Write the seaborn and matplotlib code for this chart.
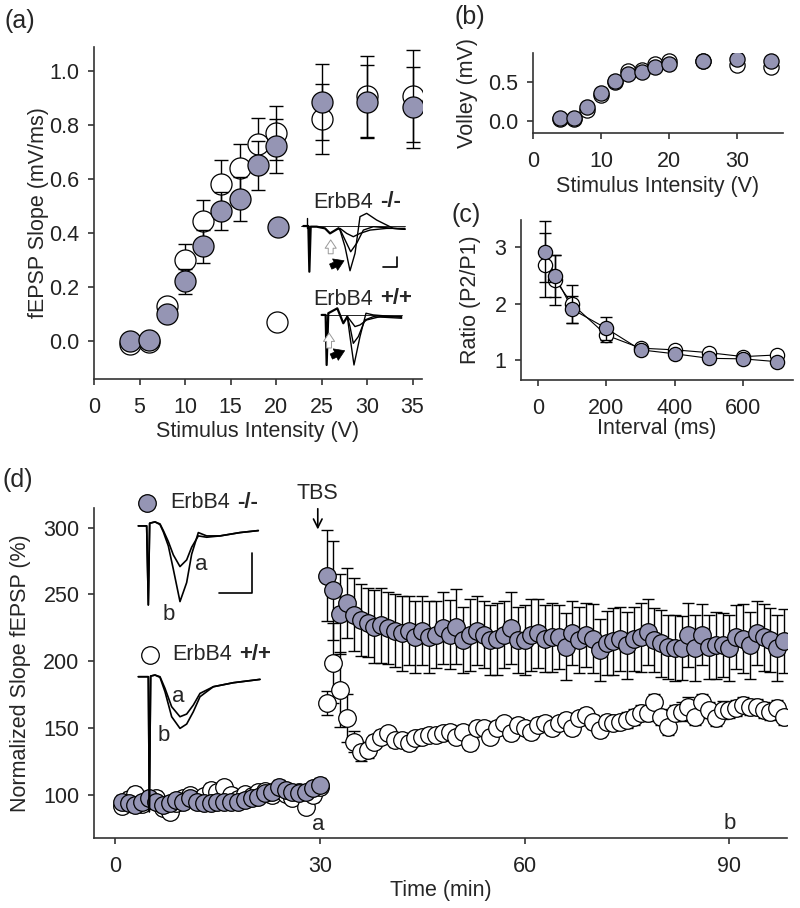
import numpy as np
import matplotlib
matplotlib.use("Agg")
import matplotlib.pyplot as plt
import seaborn as sns

# ================= DATA =================
# (a) input/output: fEPSP slope vs stimulus intensity
stim_v = [4, 6, 8, 10, 12, 14, 16, 18, 20, 25, 30, 35]
slope_ko = [0.0, 0.005, 0.10, 0.22, 0.35, 0.48, 0.525, 0.65, 0.72, 0.885, 0.885, 0.865]
slope_ko_err = [0.01, 0.01, 0.02, 0.045, 0.06, 0.07, 0.08, 0.09, 0.10, 0.14, 0.135, 0.15]
slope_wt = [-0.01, -0.005, 0.13, 0.30, 0.445, 0.58, 0.64, 0.73, 0.77, 0.82, 0.905, 0.905]
slope_wt_err = [0.01, 0.01, 0.02, 0.06, 0.075, 0.09, 0.09, 0.095, 0.10, 0.13, 0.15, 0.17]

# (b) fiber volley vs stimulus intensity
volley_ko = [0.03, 0.03, 0.18, 0.36, 0.51, 0.60, 0.62, 0.69, 0.73, 0.765, 0.79, 0.765]
volley_ko_err = [0.01, 0.01, 0.02, 0.03, 0.03, 0.03, 0.03, 0.03, 0.04, 0.08, 0.05, 0.05]
volley_wt = [0.02, 0.02, 0.135, 0.33, 0.50, 0.64, 0.65, 0.73, 0.76, 0.77, 0.71, 0.685]
volley_wt_err = [0.01, 0.01, 0.02, 0.03, 0.03, 0.03, 0.03, 0.03, 0.04, 0.05, 0.06, 0.05]

# (c) paired-pulse ratio
interval_ms = [20, 50, 100, 200, 300, 400, 500, 600, 700]
ppr_ko = [2.92, 2.49, 1.90, 1.56, 1.18, 1.11, 1.03, 1.02, 0.97]
ppr_ko_err = [0.54, 0.37, 0.24, 0.20, 0.04, 0.04, 0.03, 0.03, 0.03]
ppr_wt = [2.69, 2.42, 1.99, 1.44, 1.21, 1.18, 1.13, 1.06, 1.09]
ppr_wt_err = [0.57, 0.44, 0.34, 0.12, 0.04, 0.04, 0.03, 0.03, 0.03]

# (d) LTP time course (1 point / min)
t_base = np.arange(1, 31)
ltp_ko_base = [95, 93.8, 92.5, 95, 97.5, 95, 92.5, 93.8, 96.3, 95, 97.5, 95, 93.8, 93.8, 95,
               95, 95, 95, 96.3, 97.5, 98.8, 101.3, 102.5, 106.2, 103.8, 102.5, 101.3, 102.5, 105, 107.5]
ltp_ko_base_err = [5, 4, 5, 4, 5, 4, 5, 4, 4, 5, 4, 5, 4, 4, 5,
                   4, 5, 4, 4, 5, 4, 5, 4, 5, 4, 5, 4, 5, 4, 5]
ltp_wt_base = [92, 97, 101, 93, 96, 98, 90, 87, 94, 98, 100, 96, 99, 104, 102,
               106, 100, 97, 101, 99, 102, 103, 100, 104, 101, 98, 102, 91, 100, 106]
ltp_wt_base_err = [4, 5, 5, 4, 4, 5, 4, 4, 5, 4, 4, 5, 4, 5, 4,
                   4, 5, 4, 4, 5, 4, 4, 5, 4, 4, 5, 4, 4, 5, 4]

t_post = np.arange(31, 99)
ltp_ko_post = [264, 253, 235.5, 243.6, 235, 231, 229, 226, 227, 225, 223, 221, 223, 218, 223, 218, 220,
               225, 220, 226, 216, 220, 223, 220, 216, 217, 220, 225, 216, 216, 220, 221, 217, 218,
               218, 211, 221, 216, 220, 217, 208.5, 213.5, 215, 217, 212, 217, 218, 222, 216, 213.5, 211,
               210, 210, 220, 210, 220, 211, 212, 212, 210, 218, 217, 212, 221, 218, 216, 210, 215]
ltp_ko_post_err = [34, 37, 30, 26, 27, 27, 26, 27, 28, 27, 27, 28, 26, 27, 26, 27, 25,
                   27, 26, 28, 25, 27, 26, 25, 26, 27, 25, 27, 25, 26, 27, 26, 25, 26,
                   24, 25, 24, 25, 24, 26, 23, 24, 25, 24, 25, 24, 26, 25, 24, 25, 24,
                   25, 24, 24, 25, 23, 24, 25, 24, 25, 24, 26, 25, 24, 25, 24, 25, 24]
ltp_wt_post = [168.6, 199, 178.6, 157.4, 140, 132.4, 133.7, 140, 143.6, 146, 141, 141, 138.7, 142.4, 143.6, 145, 145,
               146, 147, 143.6, 147, 139, 150, 150, 143.6, 150, 153.7, 146, 152.4, 150, 147, 152.4, 154, 150,
               153.6, 156, 150, 157.4, 160, 154.7, 148.7, 154.7, 153.6, 154.7, 156, 158.5, 161, 161, 169.7, 158.5, 151,
               161, 162.3, 166, 158.5, 169.7, 163.6, 157.4, 163.6, 163.6, 165, 167.4, 166, 166, 163.6, 162.3, 165, 158.5]
ltp_wt_post_err = [9, 30, 28, 18, 8, 7, 6, 5, 5, 5, 5, 5, 5, 5, 5, 5, 5,
                   5, 5, 5, 5, 5, 5, 5, 5, 5, 5, 5, 5, 5, 5, 5, 5, 5,
                   5, 5, 5, 5, 5, 5, 5, 5, 5, 5, 6, 6, 6, 6, 6, 6, 6,
                   6, 7, 7, 6, 6, 6, 6, 7, 6, 6, 6, 6, 6, 6, 6, 6, 6]

# example traces (ms, mV)
# (a) ErbB4 -/- : three intensities
tr_a_ko_pre_t = [-4.5, -0.75, 0, 1, 5.5, 11.75, 15.5, 21.75]
tr_a_ko_pre_v = [0, 0, -4.28, -0.06, -0.06, -0.22, -0.69, -0.22]
tr_a_ko_t = [[23, 28, 33, 38, 45.5, 58, 71.75],
             [23, 28, 31, 35.5, 40.5, 48, 71.75],
             [23, 26.75, 30.5, 34.25, 38, 43, 50.5, 63, 71.75]]
tr_a_ko_v = [[-0.22, -0.69, -1.0, -0.69, -0.38, -0.22, -0.22],
             [-0.31, -1.62, -2.41, -1.62, -0.38, -0.06, -0.31],
             [-0.38, -1.94, -4.19, -2.56, 0.88, 1.19, 0.56, -0.22, -0.31]]
# (a) ErbB4 +/+
tr_a_wt_pre_t = [-3.75, -0.75, 0, 1.25, 8, 12.5, 15.5]
tr_a_wt_pre_v = [0, 0, -4.69, 0.16, 0.62, -0.78, -0.16]
tr_a_wt_t = [[17.5, 21.25, 25, 30, 40, 56.25],
             [17.5, 20, 23.75, 28.75, 35, 56.25],
             [17.5, 20.5, 25, 29.5, 35, 56.25]]
tr_a_wt_v = [[-0.47, -1.09, -0.94, -0.47, -0.16, -0.16],
             [-1.09, -2.66, -2.03, -0.47, -0.16, -0.31],
             [-2.03, -4.69, -2.03, 0.16, 0, -0.22]]

# (d) traces before (a) and after (b) TBS
tr_d_ko_t = [-3, -0.5, 0, 0.4, 2, 3.5, 4.5, 6, 7.5, 9.5, 11.5, 13, 15, 17.5, 21.5, 27.5, 33]
tr_d_ko_a = [0, 0, -2.37, 0.08, 0.12, 0.06, -0.14, -0.47, -0.87, -1.22, -1.02, -0.64, -0.30, -0.34, -0.30, -0.20, -0.14]
tr_d_ko_b = [0, 0, -2.37, 0.08, 0.12, 0.04, -0.18, -0.6, -1.3, -2.27, -1.7, -0.85, -0.2, -0.3, -0.3, -0.2, -0.14]
tr_d_wt_t = [-3.3, -0.3, 0, 0.4, 1.7, 3.2, 4.7, 6.7, 9.2, 11.2, 13.2, 15.2, 19.2, 25.2, 33.2]
tr_d_wt_a = [0, 0, -4.05, 0.02, 0.05, 0, -0.35, -0.9, -1.2, -1.12, -0.85, -0.5, -0.3, -0.18, -0.08]
tr_d_wt_b = [0, 0, -4.05, 0.02, 0.05, -0.02, -0.45, -1.2, -1.55, -1.42, -1.05, -0.6, -0.3, -0.18, -0.08]

# ================= STYLE =================
sns.set_style("ticks")
plt.rcParams['font.family'] = ['Liberation Sans', 'DejaVu Sans']
plt.rcParams['font.size'] = 15.5
plt.rcParams['axes.linewidth'] = 1.2
plt.rcParams['axes.edgecolor'] = '#333333'
plt.rcParams['xtick.major.width'] = 1.1
plt.rcParams['ytick.major.width'] = 1.1
plt.rcParams['xtick.major.size'] = 4
plt.rcParams['ytick.major.size'] = 4
plt.rcParams['xtick.major.pad'] = 9
plt.rcParams['ytick.major.pad'] = 6.5
plt.rcParams['xtick.labelsize'] = 15.5
plt.rcParams['ytick.labelsize'] = 15.5

FILL = '#9595b4'
OPEN = 'white'
BLACK_ARROW = dict(arrowstyle='simple,head_width=0.9,head_length=0.7,tail_width=0.4',
                   fc='black', ec='black', lw=0.5, mutation_scale=10, shrinkA=0, shrinkB=0)
HOLLOW_ARROW = dict(arrowstyle='simple,head_width=0.8,head_length=0.6,tail_width=0.35',
                    fc='white', ec='#999999', lw=0.7, mutation_scale=10, shrinkA=0, shrinkB=0)


def draw_series(ax, x, y, err, color, s, capsize=4, z=3):
    ax.errorbar(x, y, yerr=err, fmt='none', ecolor='black', elinewidth=1,
                capsize=capsize, capthick=1, zorder=z - 1)
    sns.scatterplot(x=x, y=y, ax=ax, s=s, color=color, edgecolor='black',
                    linewidth=0.9, zorder=z, legend=False)


def tidy(ax, xlab, ylab):
    sns.despine(ax=ax)
    ax.tick_params(direction='out', colors='#222222')
    ax.xaxis.set_label_coords(*xlab)
    ax.yaxis.set_label_coords(*ylab)


def genotype_label(ax, x, y, suffix, transform, gap=5):
    t = ax.text(x, y, 'ErbB4', transform=transform, ha='left', va='center')
    ax.annotate(suffix, xy=(1, 0.5), xycoords=t, xytext=(gap, 0.5), textcoords='offset points',
                ha='left', va='center', fontweight='bold', fontsize=16)


fig = plt.figure(figsize=(8, 9.08), dpi=100)

# ---------- (a) ----------
ax_a = fig.add_axes([0.1175, 0.5826, 0.4096, 0.366])
draw_series(ax_a, stim_v, slope_wt, slope_wt_err, OPEN, 230, capsize=5, z=3)
draw_series(ax_a, stim_v, slope_ko, slope_ko_err, FILL, 230, capsize=5, z=5)
ax_a.set_xlim(0, 36)
ax_a.set_ylim(-0.141, 1.089)
ax_a.set_xticks(range(0, 36, 5))
ax_a.set_yticks([0.0, 0.2, 0.4, 0.6, 0.8, 1.0])
ax_a.yaxis.set_major_formatter(matplotlib.ticker.FormatStrFormatter('%.1f'))
ax_a.set_xlabel('Stimulus Intensity (V)')
ax_a.set_ylabel('fEPSP Slope (mV/ms)')
tidy(ax_a, (0.5, -0.125), (-0.137, 0.5))
ax_a.scatter([20.2], [0.42], s=230, color=FILL, edgecolor='black', linewidth=0.9, zorder=6)
ax_a.scatter([20.1], [0.071], s=230, color=OPEN, edgecolor='black', linewidth=0.9, zorder=6)
genotype_label(ax_a, 24.1, 0.512, '-/-', ax_a.transData)
genotype_label(ax_a, 24.1, 0.154, '+/+', ax_a.transData)

# traces inset (a) -/-
ax_t1 = fig.add_axes([0.3767, 0.697, 0.1333, 0.0717])
ax_t1.plot(tr_a_ko_pre_t, tr_a_ko_pre_v, color='black', lw=1.6)
for tt, vv in zip(tr_a_ko_t, tr_a_ko_v):
    ax_t1.plot([tr_a_ko_pre_t[-1]] + tt, [tr_a_ko_pre_v[-1]] + vv, color='black', lw=1.0)
ax_t1.plot([-6, 71.75], [0, 0], color='black', lw=0.6)
ax_t1.plot([-2, -2], [0.72, -0.22], color='black', lw=1.0)
ax_t1.plot([55.5, 65.5, 65.5], [-3.875, -3.875, -2.875], color='black', lw=1.2)
ax_t1.annotate('', xy=(26, -3.25), xytext=(16, -3.8), arrowprops=BLACK_ARROW)
ax_t1.annotate('', xy=(16, -1.3), xytext=(16, -2.6), arrowprops=HOLLOW_ARROW)
ax_t1.set_xlim(-6, 74)
ax_t1.set_ylim(-4.6, 1.5)
ax_t1.axis('off')

# traces inset (a) +/+
ax_t2 = fig.add_axes([0.3983, 0.5944, 0.1067, 0.0705])
ax_t2.plot(tr_a_wt_pre_t, tr_a_wt_pre_v, color='black', lw=1.6)
for tt, vv in zip(tr_a_wt_t, tr_a_wt_v):
    ax_t2.plot([tr_a_wt_pre_t[-1]] + tt, [tr_a_wt_pre_v[-1]] + vv, color='black', lw=1.0)
ax_t2.plot([-3.75, 56.25], [0, 0], color='black', lw=0.6)
ax_t2.annotate('', xy=(13.5, -3.35), xytext=(3.5, -3.9), arrowprops=BLACK_ARROW)
ax_t2.annotate('', xy=(1.8, -1.7), xytext=(1.8, -3.1), arrowprops=HOLLOW_ARROW)
ax_t2.set_xlim(-6, 58)
ax_t2.set_ylim(-5, 1)
ax_t2.axis('off')

# ---------- (b) ----------
ax_b = fig.add_axes([0.6659, 0.8532, 0.3129, 0.0881])
draw_series(ax_b, stim_v, volley_wt, volley_wt_err, OPEN, 120, capsize=3, z=3)
draw_series(ax_b, stim_v, volley_ko, volley_ko_err, FILL, 120, capsize=3, z=5)
ax_b.set_xlim(0, 36.7)
ax_b.set_ylim(-0.16, 0.864)
ax_b.set_xticks([0, 10, 20, 30])
ax_b.set_yticks([0.0, 0.5])
ax_b.yaxis.set_major_formatter(matplotlib.ticker.FormatStrFormatter('%.1f'))
ax_b.set_xlabel('Stimulus Intensity (V)')
ax_b.set_ylabel('Volley (mV)')
tidy(ax_b, (0.5, -0.53), (-0.218, 0.5))

# ---------- (c) ----------
ax_c = fig.add_axes([0.6513, 0.5815, 0.34, 0.1762])
sns.lineplot(x=interval_ms, y=ppr_wt, ax=ax_c, color='black', lw=0.8, zorder=1)
sns.lineplot(x=interval_ms, y=ppr_ko, ax=ax_c, color='black', lw=0.8, zorder=1)
draw_series(ax_c, interval_ms, ppr_wt, ppr_wt_err, OPEN, 105, capsize=4, z=3)
draw_series(ax_c, interval_ms, ppr_ko, ppr_ko_err, FILL, 105, capsize=4, z=5)
ax_c.set_xlim(-50, 746)
ax_c.set_ylim(0.645, 3.485)
ax_c.set_xticks([0, 200, 400, 600])
ax_c.set_yticks([1, 2, 3])
ax_c.set_xlabel('Interval (ms)')
ax_c.set_ylabel('Ratio (P2/P1)')
tidy(ax_c, (0.5, -0.235), (-0.147, 0.5))

# ---------- (d) ----------
ax_d = fig.add_axes([0.1175, 0.0771, 0.866, 0.3634])
draw_series(ax_d, t_base, ltp_wt_base, ltp_wt_base_err, OPEN, 160, capsize=4, z=3)
draw_series(ax_d, t_base, ltp_ko_base, ltp_ko_base_err, FILL, 160, capsize=4, z=5)
draw_series(ax_d, t_post, ltp_wt_post, ltp_wt_post_err, OPEN, 160, capsize=4, z=3)
draw_series(ax_d, t_post, ltp_ko_post, ltp_ko_post_err, FILL, 160, capsize=4, z=5)
ax_d.set_xlim(-3.07, 98.4)
ax_d.set_ylim(67.8, 314.7)
ax_d.set_xticks([0, 30, 60, 90])
ax_d.set_yticks([100, 150, 200, 250, 300])
ax_d.set_xlabel('Time (min)')
ax_d.set_ylabel('Normalized Slope fEPSP (%)')
tidy(ax_d, (0.5, -0.128), (-0.091, 0.5))

ax_d.scatter([0.076], [1.016], s=160, color=FILL, edgecolor='black', linewidth=0.9,
             transform=ax_d.transAxes, clip_on=False, zorder=6)
genotype_label(ax_d, 0.110, 1.016, '-/-', ax_d.transAxes, gap=5.5)
ax_d.scatter([0.081], [0.555], s=160, color=OPEN, edgecolor='black', linewidth=0.9,
             transform=ax_d.transAxes, clip_on=False, zorder=6)
genotype_label(ax_d, 0.1125, 0.555, '+/+', ax_d.transAxes, gap=5.5)
ax_d.annotate('TBS', xy=(0.323, 0.935), xytext=(0.323, 1.012), xycoords='axes fraction',
              ha='center', va='bottom', fontsize=15.5,
              arrowprops=dict(arrowstyle='->', color='black', lw=1.2, shrinkA=1, shrinkB=0))
ax_d.text(0.323, 0.04, 'a', transform=ax_d.transAxes, ha='center', va='center', fontsize=16)
ax_d.text(0.918, 0.045, 'b', transform=ax_d.transAxes, ha='center', va='center', fontsize=16)

# traces inset (d) -/-
ax_t3 = fig.add_axes([0.16875, 0.3180, 0.1583, 0.1175])
ax_t3.plot(tr_d_ko_t, tr_d_ko_a, color='black', lw=1.2)
ax_t3.plot(tr_d_ko_t, tr_d_ko_b, color='black', lw=1.2)
ax_t3.plot([21.3, 31, 31], [-2.0, -2.0, -0.82], color='black', lw=1.2)
ax_t3.text(16, -1.17, 'a', ha='center', va='center', fontsize=16)
ax_t3.text(6, -2.67, 'b', ha='center', va='center', fontsize=16)
ax_t3.set_xlim(-4, 34)
ax_t3.set_ylim(-2.8, 0.4)
ax_t3.axis('off')

# traces inset (d) +/+
ax_t4 = fig.add_axes([0.17, 0.1005, 0.1583, 0.1689])
ax_t4.plot(tr_d_wt_t, tr_d_wt_a, color='black', lw=1.2)
ax_t4.plot(tr_d_wt_t, tr_d_wt_b, color='black', lw=1.2)
ax_t4.text(8.7, -0.6, 'a', ha='center', va='center', fontsize=16)
ax_t4.text(4.2, -1.75, 'b', ha='center', va='center', fontsize=16)
ax_t4.set_xlim(-4, 34)
ax_t4.set_ylim(-4.2, 0.4)
ax_t4.axis('off')

# panel letters
fig.text(0.005, 0.977, '(a)', fontsize=18, va='center')
fig.text(0.568, 0.981, '(b)', fontsize=18, va='center')
fig.text(0.564, 0.763, '(c)', fontsize=18, va='center')
fig.text(0.003, 0.4714, '(d)', fontsize=18, va='center')

plt.savefig('out.png', dpi=100)
